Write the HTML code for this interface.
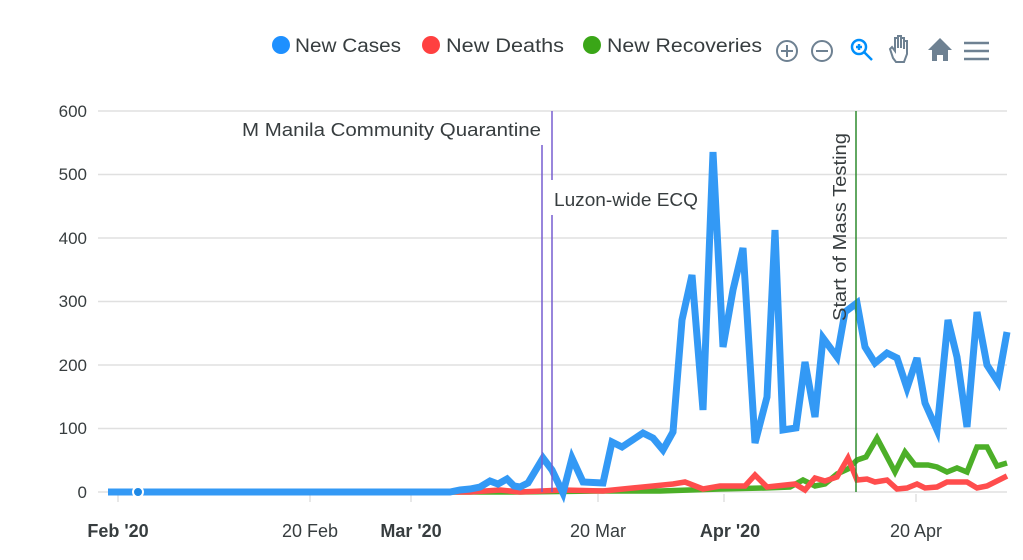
<!DOCTYPE html>
<html><head><meta charset="utf-8"><style>
body{margin:0;background:#fff;width:1023px;height:555px;overflow:hidden}
svg{font-family:"Liberation Sans",sans-serif}
</style></head><body>
<svg width="1023" height="555" viewBox="0 0 1023 555">
<g stroke="#e0e0e0" stroke-width="1.5">
<line x1="98" x2="1007" y1="111" y2="111"/><line x1="98" x2="1007" y1="174.5" y2="174.5"/>
<line x1="98" x2="1007" y1="238" y2="238"/><line x1="98" x2="1007" y1="301.5" y2="301.5"/>
<line x1="98" x2="1007" y1="365" y2="365"/><line x1="98" x2="1007" y1="428.5" y2="428.5"/>
<line x1="98" x2="1007" y1="492" y2="492"/>
<line x1="118" x2="118" y1="494" y2="502"/><line x1="310" x2="310" y1="494" y2="502"/>
<line x1="411" x2="411" y1="494" y2="502"/><line x1="598" x2="598" y1="494" y2="502"/>
<line x1="724" x2="724" y1="494" y2="502"/><line x1="916" x2="916" y1="494" y2="502"/>
</g>
<g font-size="17" fill="#373d3f" text-anchor="end">
<text x="87" y="117">600</text><text x="87" y="180">500</text><text x="87" y="244">400</text>
<text x="87" y="307">300</text><text x="87" y="371">200</text><text x="87" y="434">100</text>
<text x="87" y="498">0</text>
</g>
<g font-size="18" fill="#373d3f" text-anchor="middle">
<text x="118" y="537" font-weight="bold">Feb '20</text><text x="310" y="537">20 Feb</text>
<text x="411" y="537" font-weight="bold">Mar '20</text><text x="598" y="537">20 Mar</text>
<text x="730" y="537" font-weight="bold">Apr '20</text><text x="916" y="537">20 Apr</text>
</g>
<g fill="none" stroke-linejoin="miter" stroke-linecap="butt">
<polyline stroke="#4caf28" stroke-width="5.5" points="108,492 520,492 600,491 660,491 720,489 765,488 790,487 803,480 815,486 825,484 837,474 848,469 857,460 866,457 877,438 895,472 905,452 915,465 928,465 937,467 947,472 957,468 967,472 977,447 987,447 997,466 1007,463"/>
<polyline stroke="#ff4d4d" stroke-width="5.5" points="108,492 470,492 500,490 520,492 563,490 603,491 643,487 673,484 685,482 703,489 720,486 745,486 755,475 767,487 795,484 805,490 815,478 825,481 837,477 848,458 857,480 867,479 875,482 887,480 897,489 907,488 917,484 925,488 937,487 947,482 960,482 967,482 977,488 987,486 1007,476"/>
<polyline stroke="#3399f5" stroke-width="7" points="108,492 450,492 460,490 470,489 480,487 490,481 498,484 507,479 514,486 520,487 528,483 543,458 552,470 563,493 572,458 583,482 603,483 612,442 622,447 643,433 653,438 663,450 673,432 682,320 692,275 703,410 713,152 723,347 733,290 743,248 755,443 767,397 775,230 783,430 796,428 805,362 815,417 823,338 837,357 845,312 857,303 865,347 875,363 887,353 897,358 907,388 917,358 925,403 937,430 948,320 957,357 967,427 977,312 987,365 998,382 1007,332"/>
</g>
<circle cx="138" cy="492" r="5" fill="#1e88e5" stroke="#fff" stroke-width="2"/>
<line x1="542" x2="542" y1="145" y2="492" stroke="#775dd0" stroke-width="1.5"/>
<line x1="552" x2="552" y1="111" y2="180" stroke="#775dd0" stroke-width="1.5"/>
<line x1="552" x2="552" y1="215" y2="492" stroke="#775dd0" stroke-width="1.5"/>
<line x1="856" x2="856" y1="111" y2="492" stroke="#2e8b2e" stroke-width="1.5"/>
<g font-size="18" fill="#373d3f">
<text x="242" y="136" textLength="299" lengthAdjust="spacingAndGlyphs">M Manila Community Quarantine</text>
<text x="554" y="206" textLength="144" lengthAdjust="spacingAndGlyphs">Luzon-wide ECQ</text>
<text transform="translate(846,321) rotate(-90)" textLength="188" lengthAdjust="spacingAndGlyphs">Start of Mass Testing</text>
</g>
<g font-size="19" fill="#373d3f">
<circle cx="281" cy="45" r="9" fill="#1e90ff"/><text x="295" y="52" textLength="106" lengthAdjust="spacingAndGlyphs">New Cases</text>
<circle cx="431" cy="45" r="9" fill="#ff4040"/><text x="446" y="52" textLength="118" lengthAdjust="spacingAndGlyphs">New Deaths</text>
<circle cx="592" cy="45" r="9" fill="#3aa617"/><text x="607" y="52" textLength="155" lengthAdjust="spacingAndGlyphs">New Recoveries</text>
</g>
<g stroke="#6e8192" stroke-width="2" fill="none">
<circle cx="787" cy="51" r="10"/><line x1="781" x2="793" y1="51" y2="51"/><line x1="787" x2="787" y1="45" y2="57"/>
<circle cx="822" cy="51" r="10"/><line x1="816" x2="828" y1="51" y2="51"/>
</g>
<g stroke="#008ffb" stroke-width="2.5" fill="none">
<circle cx="859" cy="47" r="7"/><line x1="864" x2="872" y1="52" y2="60"/>
<line x1="856" x2="862" y1="47" y2="47"/><line x1="859" x2="859" y1="44" y2="50"/>
</g>
<g stroke="#6e8192" stroke-width="2" fill="none">
<path d="M893,58 L890,49 L892,47 L895,51 L895,38 L898,38 L898,48 L898,36 L901,36 L901,48 L901,38 L904,38 L904,49 L904,41 L907,41 L907,54 L904,62 L896,62 Z"/>
</g>
<path d="M940,38 L952,50 L948,50 L948,61 L943,61 L943,55 L937,55 L937,61 L932,61 L932,50 L928,50 Z" fill="#6e8192"/>
<g stroke="#6e8192" stroke-width="2.5">
<line x1="964" x2="989" y1="43" y2="43"/><line x1="964" x2="989" y1="51" y2="51"/><line x1="964" x2="989" y1="59" y2="59"/>
</g>
</svg>
</body></html>
